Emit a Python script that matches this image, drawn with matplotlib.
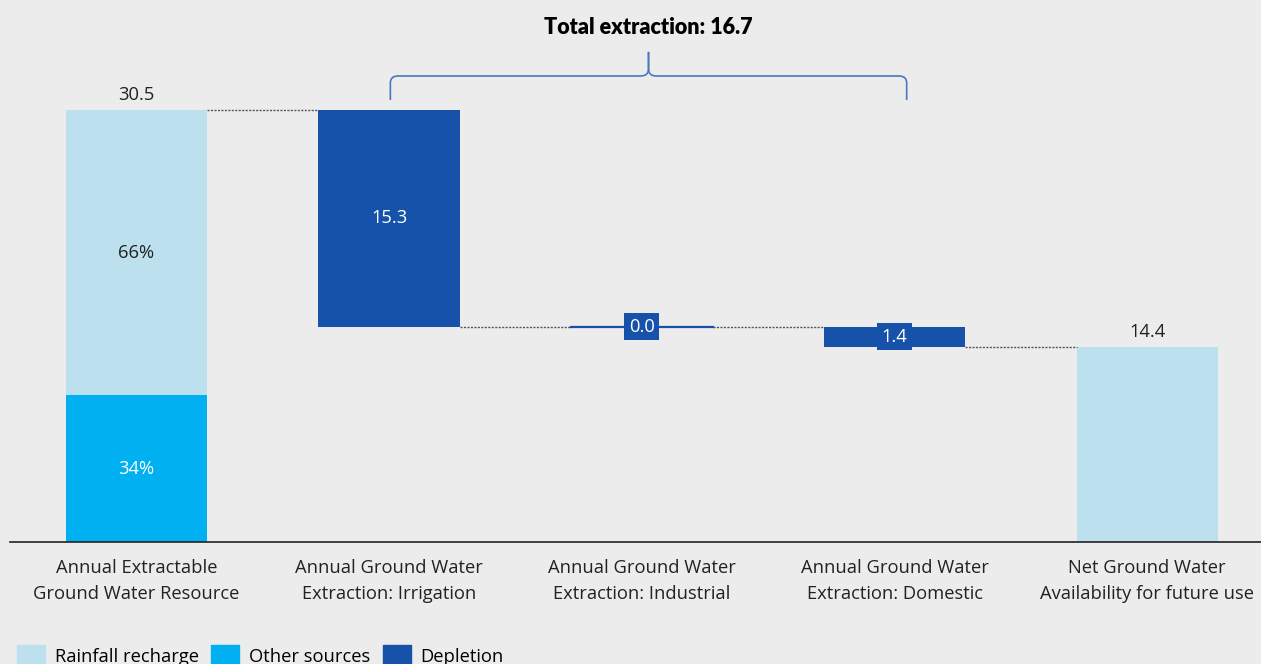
import numpy as np
import matplotlib
matplotlib.use('Agg')
import matplotlib.pyplot as plt
from matplotlib.path import Path
from matplotlib.patches import PathPatch, Patch

# data
categories = [
  'Annual Extractable\nGround Water Resource',
  'Annual Ground Water\nExtraction: Irrigation',
  'Annual Ground Water\nExtraction: Industrial',
  'Annual Ground Water\nExtraction: Domestic',
  'Net Ground Water\nAvailability for future use',
]
total_resource = 30.5
share_rainfall = 66
share_other = 34
extractions = [15.3, 0.0, 1.4]
net_label = '14.4'

BG = '#ececec'
C_RAIN = '#bde0ef'
C_OTHER = '#00b0f0'
C_DEPL = '#1652a9'
TXT = '#222222'
FS = 13.2

plt.rcParams['font.family'] = ['Open Sans', 'DejaVu Sans']

fig = plt.figure(figsize=(12.61, 6.64), dpi=100, facecolor=BG)
ax = fig.add_axes([10 / 1261, 122 / 664, 1251 / 1261, 502 / 664])
ax.set_facecolor(BG)

x = np.arange(len(categories))
w = 0.56

# first bar: stacked shares
other_h = total_resource * share_other / 100
rain_h = total_resource - other_h
ax.bar(x[0], other_h, w, color=C_OTHER)
ax.bar(x[0], rain_h, w, bottom=other_h, color=C_RAIN)
ax.text(x[0], other_h / 2, f'{share_other}%', ha='center', va='center', color='white', fontsize=FS)
ax.text(x[0], other_h + rain_h / 2, f'{share_rainfall}%', ha='center', va='center', color=TXT, fontsize=FS)
ax.text(x[0], total_resource + 0.4, f'{total_resource}', ha='center', va='bottom', color=TXT, fontsize=FS)

# extraction bars
level = total_resource
levels = [level]
for i, v in enumerate(extractions):
  xi = x[i + 1]
  bottom = level - v
  if v > 0:
    ax.bar(xi, v, w, bottom=bottom, color=C_DEPL)
  else:
    ax.plot([xi - w / 2, xi + w / 2], [level, level], color=C_DEPL, lw=1.6)
  mid = bottom + v / 2
  if v > 5:
    ax.text(xi, mid, f'{v}', ha='center', va='center', color='white', fontsize=FS)
  else:
    ax.text(xi, mid, f'{v}', ha='center', va='center', color='white', fontsize=FS,
            bbox=dict(boxstyle='square,pad=0.24', fc=C_DEPL, ec='none'))
  level = bottom
  levels.append(level)

# net availability bar
ax.bar(x[4], level, w, color=C_RAIN)
ax.text(x[4], level + 0.4, net_label, ha='center', va='bottom', color=TXT, fontsize=FS)

# connectors
for i in range(4):
  ax.plot([x[i] + w / 2, x[i + 1] - w / 2], [levels[i], levels[i]],
          color='#555555', lw=1, ls=(0, (1.5, 1)))

# brace over the extraction bars
x0, x1 = x[1] + 0.005, x[3] + 0.048
xm = (x0 + x1) / 2
yb, yh, yt = 31.2, 32.9, 34.6
dx, dy = 0.03, 0.5
codes = [Path.MOVETO, Path.LINETO, Path.CURVE3, Path.CURVE3,
         Path.LINETO, Path.CURVE3, Path.CURVE3, Path.LINETO]
for xe, sgn in ((x0, 1), (x1, -1)):
  verts = [
    (xe, yb), (xe, yh - dy), (xe, yh), (xe + sgn * dx, yh),
    (xm - sgn * dx, yh), (xm, yh), (xm, yh + dy), (xm, yt),
  ]
  ax.add_patch(PathPatch(Path(verts, codes), fc='none', ec='#4a78c0', lw=1.2, clip_on=False))

total_ext = sum(extractions)
ax.text(xm, 36.3, f'Total extraction: {total_ext:.1f}', ha='center', va='center',
        fontsize=15.5, fontweight='heavy', family=['Lato', 'DejaVu Sans'], color='black', clip_on=False)

ax.set_xlim(-0.5, 4.45)
ax.set_ylim(0, 35.44)
ax.set_xticks(x)
ax.set_xticklabels(categories, fontsize=FS, color=TXT, linespacing=1.62)
ax.tick_params(axis='x', length=0, pad=12)
ax.set_yticks([])
for s in ['top', 'right', 'left']:
  ax.spines[s].set_visible(False)
ax.spines['bottom'].set_color('#222222')
ax.spines['bottom'].set_linewidth(1.2)

handles = [Patch(color=C_RAIN, label='Rainfall recharge'),
           Patch(color=C_OTHER, label='Other sources'),
           Patch(color=C_DEPL, label='Depletion')]
fig.legend(handles=handles, loc='upper left', bbox_to_anchor=(17 / 1261, 19 / 664), ncol=3,
           frameon=False, fontsize=FS, handlelength=1.5, handleheight=1.5,
           handletextpad=0.55, columnspacing=0.7, borderaxespad=0, borderpad=0)

fig.savefig('out.png', dpi=100, facecolor=BG)
